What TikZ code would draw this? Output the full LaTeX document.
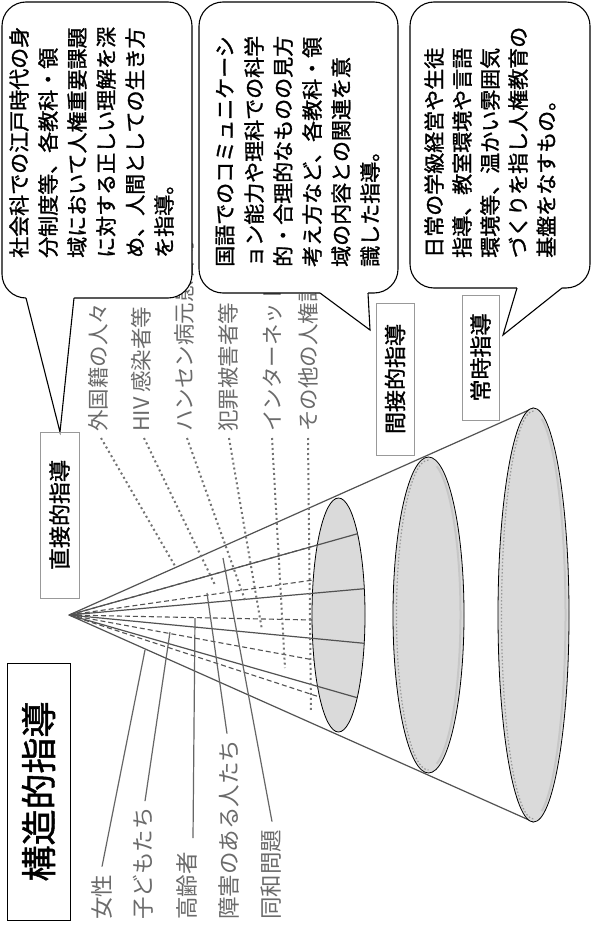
\documentclass[tikz,border=0pt]{standalone}
\usepackage{fontspec}
\newfontfamily\jp{Noto Sans CJK JP}
\newfontfamily\jpb[FakeBold=1.3]{Noto Sans CJK JP}
\definecolor{conefill}{RGB}{218,218,218}
\begin{document}
\begin{tikzpicture}[x=1pt,y=-1pt,
  every node/.style={inner sep=0pt},
  coltext/.style={font=\jpb\fontsize{21}{21}\selectfont, rotate=90, anchor=west},
  graylab/.style={font=\jp\fontsize{21.5}{21.5}\selectfont, text=black!58, rotate=90, anchor=west},
  tagbox/.style={draw=black!40, line width=0.8pt, rotate=90, font=\jpb\fontsize{22}{22}\selectfont},
  ray/.style={draw=black!68, line width=1.2pt},
  dray/.style={draw=black!68, line width=1.1pt, dash pattern=on 5pt off 3pt},
  leader/.style={draw=black!60, line width=1.2pt},
  dleader/.style={draw=black!55, line width=2pt, dash pattern=on 2pt off 3pt},
  bubble/.style={draw=black, line width=1.1pt, fill=white},
  rimdots/.style={draw=black!40, line width=1.2pt, dash pattern=on 1.5pt off 2pt},
]
\useasboundingbox (0,0) rectangle (592,928);
\fill[white] (0,0) rectangle (592,928);

% ---------- cone ----------
\coordinate (apex) at (69,615);
\coordinate (e3top) at (533.5,408);
\coordinate (e3bot) at (533.5,822);
\draw[ray] (apex) -- (e3top);
\draw[ray] (apex) -- (e3bot);

\draw[fill=conefill, draw=black, line width=0.8pt] (533.5,615) ellipse [x radius=35.5, y radius=207];
\draw[fill=conefill, draw=black, line width=0.8pt] (428.5,615) ellipse [x radius=35.5, y radius=158];
\draw[fill=conefill, draw=black, line width=0.8pt] (338.5,615) ellipse [x radius=26.5, y radius=117];
\draw[rimdots] (533.5,411) arc[start angle=270, end angle=90, x radius=32, y radius=204];
\draw[rimdots] (428.5,460) arc[start angle=270, end angle=90, x radius=32, y radius=155];
\draw[draw=black!22, line width=2pt] (533.5,615) ++(-75:32 and 203) arc[start angle=-75, end angle=75, x radius=32, y radius=203];
\draw[draw=black!22, line width=2pt] (428.5,615) ++(-75:32 and 154) arc[start angle=-75, end angle=75, x radius=32, y radius=154];

% dashed rays to the back rim of the first ellipse
\coordinate (b1) at (317.3,545);
\coordinate (b2) at (313.2,580);
\coordinate (b3) at (312.1,620);
\coordinate (b4) at (314.0,660);
\coordinate (b5) at (319.6,697);
\foreach \p in {b1,b2,b3,b4,b5} \draw[dray] (apex) -- (\p);

% solid rays to the front rim of the first ellipse
\coordinate (f1) at (357.6,533.7);
\coordinate (f2) at (364.3,588.7);
\coordinate (f3) at (364.2,643.3);
\coordinate (f4) at (357.2,697.7);
\foreach \p in {f1,f2,f3,f4} \draw[ray] (apex) -- (\p);

% ---------- top labels (gray) ----------
\node[graylab] (t1) at (98,432) {外国籍の人々};
\node[graylab] (t2) at (141,432) {HIV 感染者等};
\node[graylab] (t3) at (184,432) {ハンセン病元患者等};
\node[graylab] (t4) at (228,432) {犯罪被害者等};
\node[graylab] (t5) at (272,432) {インターネットによる人権侵害};
\node[graylab] (t6) at (308,432) {その他の人権課題};

\coordinate (d1) at (175,566);
\coordinate (d2) at (215,585);
\coordinate (d3) at (245,600);
\coordinate (d4) at (262,630);
\coordinate (d5) at (285,668);
\coordinate (d6) at (311,712);
\draw[dleader] (t1.west) ++(3,6) -- (d1);
\draw[dleader] (t2.west) ++(3,6) -- (d2);
\draw[dleader] (t3.west) ++(3,6) -- (d3);
\draw[dleader] (t4.west) ++(1,6) -- (d4);
\draw[dleader] (t5.west) ++(0,6) -- (d5);
\draw[dleader] (t6.west) ++(0,6) -- (d6);

% ---------- bottom-left labels (gray) ----------
\node[graylab, font=\jp\fontsize{22.5}{22.5}\selectfont] (l1) at (102,920) {女性};
\node[graylab, font=\jp\fontsize{22.5}{22.5}\selectfont] (l2) at (143,920) {子どもたち};
\node[graylab, font=\jp\fontsize{22.5}{22.5}\selectfont] (l3) at (187,920) {高齢者};
\node[graylab, font=\jp\fontsize{22.5}{22.5}\selectfont] (l4) at (229,920) {障害のある人たち};
\node[graylab, font=\jp\fontsize{22.5}{22.5}\selectfont] (l5) at (271,920) {同和問題};

\coordinate (g1) at (145,650);
\coordinate (g2) at (170,632);
\coordinate (g3) at (195,618);
\coordinate (g4) at (207,593);
\coordinate (g5) at (223,558);
\draw[leader] (l1.east) ++(0,-8) -- (g1);
\draw[leader] (l2.east) ++(2,-6) -- (g2);
\draw[leader] (l3.east) ++(6,-14) -- (g3);
\draw[leader] (l4.east) ++(-2,-6) -- (g4);
\draw[leader] (l5.east) ++(1,-8) -- (g5);

% ---------- title box ----------
\node[draw=black, line width=0.9pt, rotate=90, minimum width=257pt, minimum height=63pt,
      font=\jpb\fontsize{36}{36}\selectfont] (title) at (38.5,791.5) {構造的指導};

% ---------- speech bubbles ----------
% bubble 1
\draw[bubble, rounded corners=24pt] (2,2) rectangle (192,298);
\fill[white] (26,293) -- (26,298.6) -- (60,432) -- (74,298.6) -- (74,293) -- cycle;
\draw[line width=1.1pt, line join=miter] (26,298) -- (60,432) -- (74,298);
\node[coltext] (a1) at (19,258) {社会科での江戸時代の身};
\node[coltext] (a2) at (48,258) {分制度等、各教科・領};
\node[coltext] (a3) at (77,258) {域において人権重要課題};
\node[coltext] (a4) at (106,258) {に対する正しい理解を深};
\node[coltext] (a5) at (135,258) {め、人間としての生き方};
\node[coltext] (a6) at (164,258) {を指導。};

% bubble 2
\draw[bubble, rounded corners=24pt] (199,2) rectangle (398,293);
\fill[white] (320,288) -- (320,293.6) -- (370,330) -- (368,293.6) -- (368,288) -- cycle;
\draw[line width=1.1pt, line join=miter] (320,293) -- (370,330) -- (368,293);
\node[coltext] (b1t) at (225,267) {国語でのコミュニケーシ};
\node[coltext] (b2t) at (254,267) {ョン能力や理科での科学};
\node[coltext] (b3t) at (283,267) {的・合理的なものの見方};
\node[coltext] (b4t) at (312,267) {考え方など、各教科・領};
\node[coltext] (b5t) at (341,267) {域の内容との関連を意};
\node[coltext] (b6t) at (370,267) {識した指導。};

% bubble 3
\draw[bubble, rounded corners=24pt] (410,2) rectangle (590,288);
\fill[white] (517,283) -- (517,288.6) -- (503,335) -- (562,288.6) -- (562,283) -- cycle;
\draw[line width=1.1pt, line join=miter] (517,288) -- (503,335) -- (562,288);
\node[coltext] (c1t) at (434,258) {日常の学級経営や生徒};
\node[coltext] (c2t) at (462,258) {指導、教室環境や言語};
\node[coltext] (c3t) at (490,258) {環境等、温かい雰囲気};
\node[coltext] (c4t) at (518,258) {づくりを指し人権教育の};
\node[coltext] (c5t) at (546,258) {基盤をなすもの。};

% ---------- tag boxes ----------
\node[tagbox, minimum width=166pt, minimum height=39pt] (direct) at (59.5,515) {直接的指導};
\node[tagbox, minimum width=152pt, minimum height=38pt] (indirect) at (395,379) {間接的指導};
\node[tagbox, minimum width=125pt, minimum height=37pt] (always) at (480.5,357.5) {常時指導};
\end{tikzpicture}
\end{document}
